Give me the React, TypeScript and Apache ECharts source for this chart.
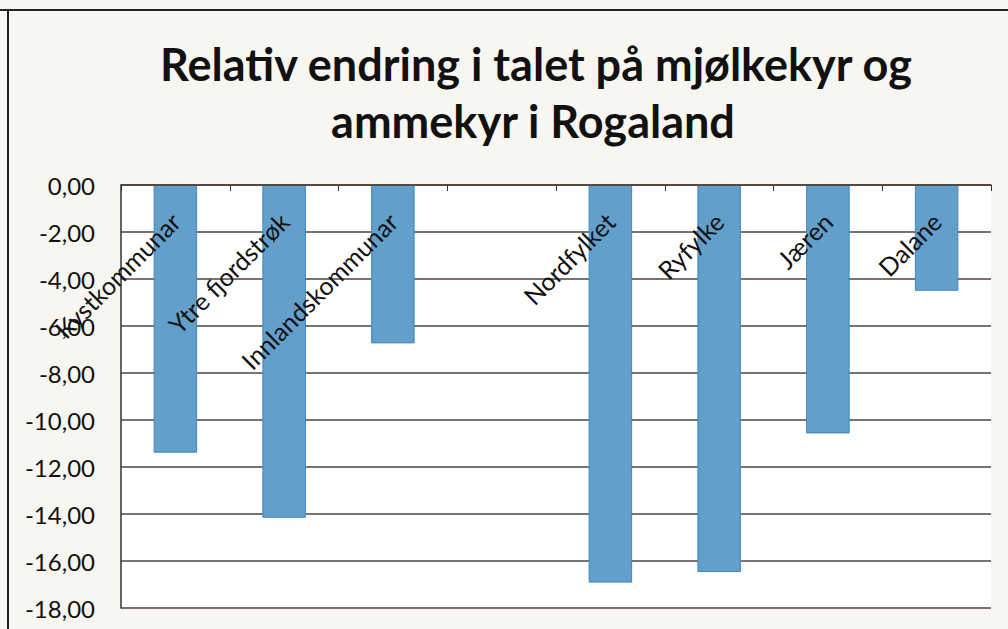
import React, { useEffect, useRef } from "react";
import * as echarts from "echarts";

const categories = [
  "Kystkommunar",
  "Ytre fjordstrøk",
  "Innlandskommunar",
  "",
  "Nordfylket",
  "Ryfylke",
  "Jæren",
  "Dalane",
];
const values: (number | null)[] = [-11.39, -14.16, -6.74, null, -16.92, -16.47, -10.57, -4.5];
const titleLines = ["Relativ endring i talet på mjølkekyr og", "ammekyr i Rogaland"];

export default function App() {
  const ref = useRef<HTMLDivElement>(null);
  useEffect(() => {
    if (!ref.current) return;
    const chart = echarts.init(ref.current, null, { renderer: "svg" });
    chart.setOption({
      animation: false,
      backgroundColor: "#f7f6f1",
      textStyle: { fontFamily: "Lato" },
      graphic: [
        { type: "line", shape: { x1: 0, y1: 10, x2: 1008, y2: 10 }, style: { stroke: "#222", lineWidth: 2 } },
        { type: "line", shape: { x1: 8, y1: 10, x2: 8, y2: 629 }, style: { stroke: "#222", lineWidth: 2 } },
        {
          type: "text",
          x: 536,
          y: 64,
          style: {
            text: titleLines[0],
            fontFamily: "Lato",
            fontWeight: "bold",
            fontSize: 45,
            fill: "#111",
            textAlign: "center",
            textVerticalAlign: "middle",
          },
        },
        {
          type: "text",
          x: 533,
          y: 121,
          style: {
            text: titleLines[1],
            fontFamily: "Lato",
            fontWeight: "bold",
            fontSize: 45,
            fill: "#111",
            textAlign: "center",
            textVerticalAlign: "middle",
          },
        },
      ],
      grid: {
        left: 121,
        top: 185,
        right: 17,
        bottom: 21,
        show: true,
        backgroundColor: "#ffffff",
        borderWidth: 0,
      },
      xAxis: {
        type: "category",
        data: categories,
        position: "top",
        axisLine: { show: true, lineStyle: { color: "#4a3a35", width: 1.5 } },
        axisTick: { show: true, inside: true, length: 6, lineStyle: { color: "#333" } },
        axisLabel: {
          inside: true,
          rotate: 45,
          margin: 32,
          interval: 0,
          fontSize: 25,
          color: "#111",
          fontFamily: "Lato",
        },
        splitLine: { show: false },
        z: 10,
      },
      yAxis: {
        type: "value",
        min: -18,
        max: 0,
        interval: 2,
        axisLine: { show: true, lineStyle: { color: "#333", width: 1.5 } },
        axisTick: { show: false },
        axisLabel: {
          fontSize: 24,
          color: "#111",
          margin: 26,
          fontFamily: "Lato",
          formatter: (v: number) => v.toFixed(2).replace(".", ","),
        },
        splitLine: { show: true, lineStyle: { color: "#4d4340", width: 1.5 } },
      },
      series: [
        {
          type: "bar",
          data: values,
          barWidth: "40%",
          itemStyle: { color: "#639fcb", borderColor: "#3f86bd", borderWidth: 1 },
        },
      ],
    });
    return () => chart.dispose();
  }, []);
  return (
    <div
      ref={ref}
      style={{ position: "absolute", left: 0, top: 0, width: 1008, height: 629 }}
    />
  );
}
